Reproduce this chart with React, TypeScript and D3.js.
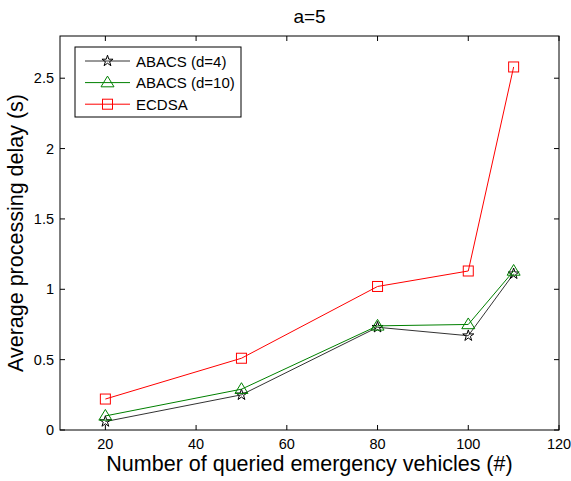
import React from "react";
import * as d3 from "d3";

const xValues = [20, 50, 80, 100, 110];
const abacs4 = [0.06, 0.25, 0.73, 0.67, 1.11];
const abacs10 = [0.1, 0.29, 0.74, 0.75, 1.13];
const ecdsa = [0.22, 0.51, 1.02, 1.13, 2.58];
const xTicks = [20, 40, 60, 80, 100, 120];
const yTicks = [0, 0.5, 1, 1.5, 2, 2.5];
const seriesNames = ["ABACS (d=4)", "ABACS (d=10)", "ECDSA"];

const W = 571, H = 481;
const L = 60, R = 559, T = 36, B = 430;
const font = "'Liberation Sans', Arial, Helvetica, sans-serif";

function Marker({ type, x, y, color }: { type: string; x: number; y: number; color: string }) {
  if (type === "star") {
    const p = d3.symbol().type(d3.symbolStar).size(38)();
    return <path d={p as string} transform={`translate(${x},${y})`} fill="none" stroke={color} strokeWidth={1} />;
  }
  if (type === "tri") {
    const s = 6.5;
    return <path d={`M${x},${y - s}L${x + s},${y + s * 0.65}L${x - s},${y + s * 0.65}Z`} fill="none" stroke={color} strokeWidth={1} />;
  }
  return <rect x={x - 5} y={y - 5} width={10} height={10} fill="none" stroke={color} strokeWidth={1} />;
}

export default function App() {
  const x = d3.scaleLinear().domain([10, 120]).range([L, R]);
  const y = d3.scaleLinear().domain([0, 2.8]).range([B, T]);
  const line = d3.line<number>().x((_, i) => x(xValues[i])).y((v) => y(v));
  const series = [
    { name: seriesNames[0], data: abacs4, color: "#000000", lineColor: "#333333", type: "star" },
    { name: seriesNames[1], data: abacs10, color: "#008000", lineColor: "#008000", type: "tri" },
    { name: seriesNames[2], data: ecdsa, color: "#ff0000", lineColor: "#ff0000", type: "sq" },
  ];
  const tl = 5;
  return (
    <svg width={W} height={H} style={{ display: "block", position: "absolute", left: 0, top: 0 }} fontFamily={font}>
      <rect x={0} y={0} width={W} height={H} fill="#fff" />
      <text x={(L + R) / 2} y={23} textAnchor="middle" fontSize={19}>a=5</text>
      {series.map((s) => (
        <g key={s.name}>
          <path d={line(s.data) as string} fill="none" stroke={s.lineColor} strokeWidth={1} />
          {s.data.map((v, i) => (
            <Marker key={i} type={s.type} x={x(xValues[i])} y={y(v)} color={s.color} />
          ))}
        </g>
      ))}
      <rect x={L} y={T} width={R - L} height={B - T} fill="none" stroke="#000" strokeWidth={1} />
      {xTicks.map((t) => (
        <g key={t}>
          <line x1={x(t)} x2={x(t)} y1={B} y2={B - tl} stroke="#000" />
          <line x1={x(t)} x2={x(t)} y1={T} y2={T + tl} stroke="#000" />
          <text x={x(t)} y={B + 19} textAnchor="middle" fontSize={14.5}>{t}</text>
        </g>
      ))}
      {yTicks.map((t) => (
        <g key={t}>
          <line x1={L} x2={L + tl} y1={y(t)} y2={y(t)} stroke="#000" />
          <line x1={R} x2={R - tl} y1={y(t)} y2={y(t)} stroke="#000" />
          <text x={L - 6} y={y(t) + 5} textAnchor="end" fontSize={14.5}>{t}</text>
        </g>
      ))}
      <text x={(L + R) / 2} y={471} textAnchor="middle" fontSize={21.5}>Number of queried emergency vehicles (#)</text>
      <text transform={`translate(23,${(T + B) / 2}) rotate(-90)`} textAnchor="middle" fontSize={21.5}>Average processing delay (s)</text>
      <g>
        <rect x={75} y={47} width={166} height={70} fill="#fff" stroke="#000" strokeWidth={1} />
        {series.map((s, i) => {
          const ly = 61 + i * 21.6;
          return (
            <g key={s.name}>
              <line x1={85} x2={130} y1={ly} y2={ly} stroke={s.lineColor} strokeWidth={1} />
              <Marker type={s.type} x={107.5} y={ly} color={s.color} />
              <text x={136} y={ly + 5.5} fontSize={15}>{s.name}</text>
            </g>
          );
        })}
      </g>
    </svg>
  );
}
